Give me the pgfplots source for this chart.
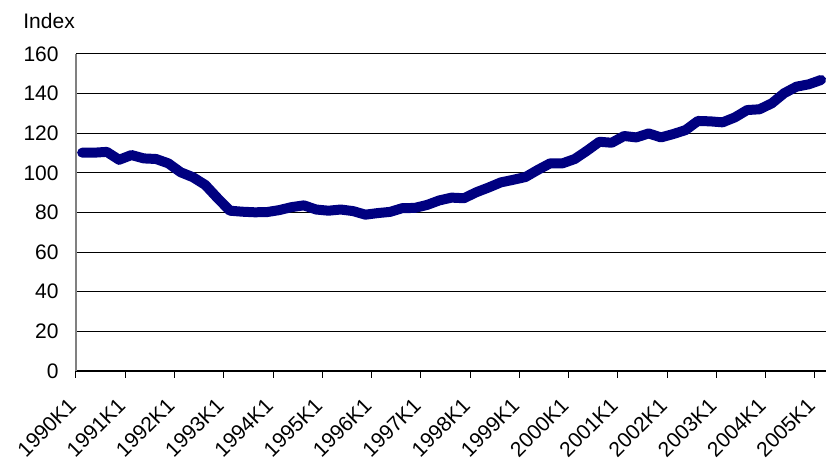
\documentclass[border=0pt]{standalone}
\usepackage{fontspec}
\setmainfont{Liberation Sans}
\usepackage{pgfplots}
\pgfplotsset{compat=1.18}
\definecolor{navyline}{RGB}{0,0,128}
\begin{document}
\fontsize{10.5}{12.6}\selectfont
\begin{tikzpicture}
\path[use as bounding box] (-38pt,-44pt) rectangle (375pt,185.5pt);
\begin{axis}[
  name=main,
  at={(0,0)}, anchor=south west,
  scale only axis, width=375pt, height=158.5pt,
  xmin=-0.5, xmax=60.4, ymin=0, ymax=160,
  ytick={0,20,...,160},
  /pgf/number format/assume math mode=true,
  yticklabel style={font=\fontsize{10.5}{12.6}\selectfont, xshift=-5pt},
  xtick={-0.5,3.5,...,59.5},
  xticklabels={1990K1,1991K1,1992K1,1993K1,1994K1,1995K1,1996K1,1997K1,1998K1,1999K1,2000K1,2001K1,2002K1,2003K1,2004K1,2005K1},
  xticklabel style={font=\fontsize{10.5}{12.6}\selectfont, inner sep=0pt, yshift=-9pt, xshift=-4.5pt, rotate=45, anchor=north east},
  x tick style={black, line width=0.5pt},
  xtick align=outside, major tick length=3.5pt,
  y tick style={draw=none},
  ymajorgrids, grid style={black, line width=0.5pt},
  axis x line*=bottom, axis y line*=left,
  x axis line style={black, line width=0.6pt, -},
  y axis line style={gray, line width=0.8pt, -},
  clip=true,
]
\addplot[navyline, line width=5pt, line join=round, line cap=round] coordinates {
(0,110.2) (1,110.2) (2,110.6) (3,106.6) (4,109.0) (5,107.3) (6,107.0) (7,104.8)
(8,100.3) (9,97.8) (10,93.9) (11,87.2) (12,80.9) (13,80.4) (14,80.1) (15,80.2)
(16,81.2) (17,82.7) (18,83.6) (19,81.5) (20,80.9) (21,81.5) (22,80.7) (23,78.9)
(24,79.7) (25,80.3) (26,82.2) (27,82.3) (28,83.8) (29,86.1) (30,87.5) (31,87.2)
(32,90.2) (33,92.6) (34,95.2) (35,96.5) (36,97.9) (37,101.5) (38,104.8) (39,104.8)
(40,107.0) (41,111.2) (42,115.7) (43,115.2) (44,118.6) (45,117.9) (46,119.9) (47,117.9)
(48,119.6) (49,121.6) (50,126.2) (51,126.0) (52,125.5) (53,128.0) (54,131.7) (55,132.1)
(56,135.1) (57,140.2) (58,143.5) (59,144.7) (60,146.9)
};
\end{axis}
\node[anchor=base west, inner sep=0pt, font=\fontsize{10.5}{12.6}\selectfont] at ([xshift=-26.5pt, yshift=12.5pt]main.north west) {Index};
\end{tikzpicture}
\end{document}
